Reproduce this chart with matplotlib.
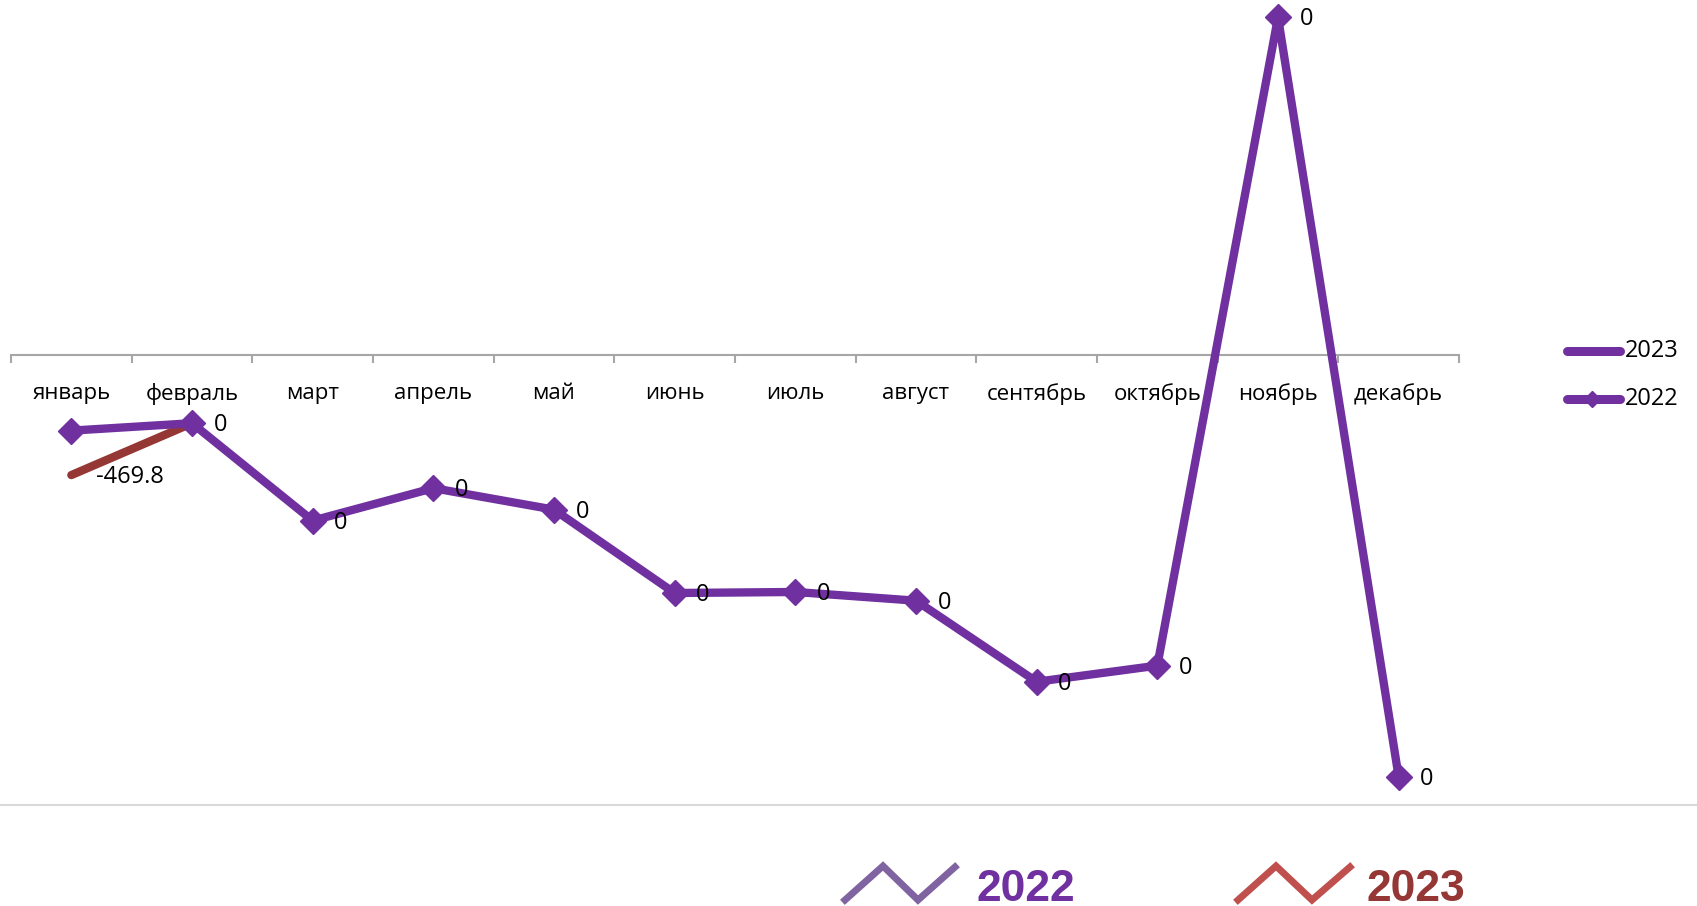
import matplotlib
matplotlib.use("Agg")
import matplotlib.pyplot as plt
from matplotlib.lines import Line2D
import numpy as np

months = ["январь", "февраль", "март", "апрель", "май", "июнь", "июль",
          "август", "сентябрь", "октябрь", "ноябрь", "декабрь"]
values_2022 = [-296, -267, -648, -521, -605, -931, -927, -961, -1278, -1215, 1320, -1650]
values_2023 = [-469.8, -267]
labels_2022 = ["", "0", "0", "0", "0", "0", "0", "0", "0", "0", "0", "0"]
labels_2023 = ["-469.8", ""]
series_names = ["2023", "2022"]

C22 = "#7030a0"
C23 = "#953735"
W, H = 1697, 906

plt.rcParams['font.family'] = ['Open Sans', 'DejaVu Sans']

fig = plt.figure(figsize=(W / 100, H / 100), dpi=100)
ax = fig.add_axes([11 / W, (H - 805) / H, (1459 - 11) / W, 805 / H])
ax.set_xlim(-0.5, 11.5)
ax.set_ylim(-1760, 1388)

x = np.arange(len(months))
ax.plot(x, values_2022, color=C22, lw=6, marker="D", ms=13.5,
        mfc=C22, mec=C22, solid_joinstyle="round", zorder=3)
ax.plot(x[:len(values_2023)], values_2023, color=C23, lw=6,
        solid_capstyle="round", zorder=2)

for xi, v, t in zip(x, values_2022, labels_2022):
    if t:
        ax.annotate(t, (xi, v), xytext=(15.5, -1.5), textcoords="offset points",
                    ha="left", va="center", fontsize=17, color="black")
for xi, v, t in zip(x, values_2023, labels_2023):
    if t:
        ax.annotate(t, (xi, v), xytext=(17.5, -1.5), textcoords="offset points",
                    ha="left", va="center", fontsize=17, color="black")

for s in ["left", "top", "right"]:
    ax.spines[s].set_visible(False)
ax.spines["bottom"].set_position(("data", 0))
ax.spines["bottom"].set_color("#a6a6a6")
ax.spines["bottom"].set_linewidth(1.5)
ax.set_yticks([])
ax.set_xticks(x)
ax.set_xticklabels(months, fontsize=16)
ax.tick_params(axis="x", which="major", length=0, pad=20)
ax.set_xticks(np.arange(-0.5, 12, 1), minor=True)
ax.tick_params(axis="x", which="minor", length=6, width=1.5, color="#a6a6a6", direction="out")

def fx(px):
    return px / W

def fy(py):
    return (H - py) / H

# separator line
fig.add_artist(Line2D([0, 1], [fy(805), fy(805)], color="#d9d9d9", lw=1.5,
                      transform=fig.transFigure))

# right legend
fig.add_artist(Line2D([fx(1567), fx(1620)], [fy(351), fy(351)], color=C22, lw=6.5,
                      solid_capstyle="round", transform=fig.transFigure))
fig.text(fx(1625), fy(351), series_names[0], fontsize=17, va="center", ha="left")
fig.add_artist(Line2D([fx(1567), fx(1620)], [fy(399), fy(399)], color=C22, lw=6.5,
                      solid_capstyle="round", transform=fig.transFigure))
fig.add_artist(Line2D([fx(1592)], [fy(399)], color=C22, marker="D", ms=8,
                      transform=fig.transFigure))
fig.text(fx(1625), fy(399), series_names[1], fontsize=17, va="center", ha="left")

# bottom legend icons
for pts, col in [([(845, 900), (883, 866), (918, 900), (955, 867)], "#8064a2"),
                 ([(1238, 900), (1276, 866), (1312, 900), (1350, 867)], "#c0504d")]:
    xs = [fx(p[0]) for p in pts]
    ys = [fy(p[1]) for p in pts]
    fig.add_artist(Line2D(xs, ys, color=col, lw=5, transform=fig.transFigure,
                          solid_joinstyle="miter"))
fig.text(fx(976), fy(901), series_names[1], fontsize=32, fontweight="bold",
         color=C22, va="baseline", ha="left",
         family=["Liberation Sans", "DejaVu Sans"])
fig.text(fx(1367), fy(901), series_names[0], fontsize=32, fontweight="bold",
         color=C23, va="baseline", ha="left",
         family=["Liberation Sans", "DejaVu Sans"])

fig.savefig("out.png", dpi=100)
